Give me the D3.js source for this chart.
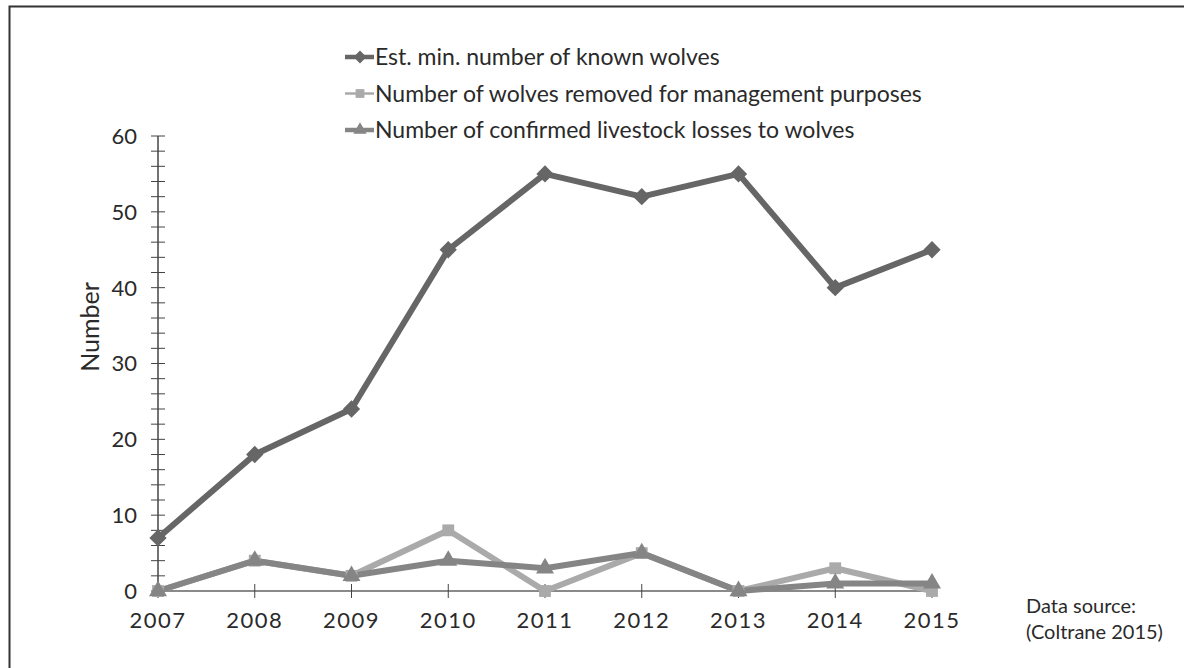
<!DOCTYPE html>
<html>
<head>
<meta charset="utf-8">
<script src="https://cdn.jsdelivr.net/npm/d3@7"></script>
<style>
  html, body { margin: 0; padding: 0; background: #fff; }
  svg { display: block; font-family: Lato, "Open Sans", sans-serif; }
</style>
</head>
<body>
<div id="chart"></div>
<script>
// data
const years = ["2007", "2008", "2009", "2010", "2011", "2012", "2013", "2014", "2015"];
const knownWolves = [7, 18, 24, 45, 55, 52, 55, 40, 45];
const wolvesRemoved = [0, 4, 2, 8, 0, 5, 0, 3, 0];
const livestockLosses = [0, 4, 2, 4, 3, 5, 0, 1, 1];
const yTicks = [0, 10, 20, 30, 40, 50, 60];

const seriesNames = [
  "Est. min. number of known wolves",
  "Number of wolves removed for management purposes",
  "Number of confirmed livestock losses to wolves"
];

const width = 1184;
const height = 668;
const margin = { top: 136, right: 252, bottom: 77, left: 158 };

const series = [
  { name: seriesNames[0], values: knownWolves, color: "#666666", symbol: d3.symbolDiamond2, size: 190 },
  { name: seriesNames[1], values: wolvesRemoved, color: "#aaaaaa", symbol: d3.symbolSquare, size: 140 },
  { name: seriesNames[2], values: livestockLosses, color: "#858585", symbol: d3.symbolTriangle, size: 140 }
];

const svg = d3.select("#chart")
  .append("svg")
  .attr("width", width)
  .attr("height", height);

// frame
svg.append("rect")
  .attr("x", 9.5)
  .attr("y", 6.5)
  .attr("width", 1200)
  .attr("height", 700)
  .attr("fill", "none")
  .attr("stroke", "#333")
  .attr("stroke-width", 2);

const x = d3.scalePoint()
  .domain(years)
  .range([margin.left, width - margin.right]);

const y = d3.scaleLinear()
  .domain([0, 60])
  .range([height - margin.bottom, margin.top]);

// y axis: major ticks every 10, minor every 2, both crossing the line
const yAxis = svg.append("g")
  .attr("transform", `translate(${margin.left},0)`);

yAxis.append("line")
  .attr("y1", y(0))
  .attr("y2", y(60))
  .attr("stroke", "#444")
  .attr("stroke-width", 1.5);

yAxis.selectAll("line.minor")
  .data(d3.range(0, 61, 2))
  .join("line")
  .attr("class", "minor")
  .attr("x1", -7)
  .attr("x2", 7)
  .attr("y1", (d) => y(d))
  .attr("y2", (d) => y(d))
  .attr("stroke", "#444")
  .attr("stroke-width", 1);

yAxis.selectAll("text")
  .data(yTicks)
  .join("text")
  .attr("x", -21)
  .attr("y", (d) => y(d))
  .attr("dy", "0.36em")
  .attr("text-anchor", "end")
  .attr("font-size", "22px")
  .attr("fill", "#2a2a2a")
  .text((d) => d);

// x axis
const xAxis = svg.append("g")
  .attr("transform", `translate(0,${y(0)})`);

xAxis.append("line")
  .attr("x1", x(years[0]))
  .attr("x2", x(years[years.length - 1]))
  .attr("stroke", "#8a8a8a")
  .attr("stroke-width", 2);

xAxis.selectAll("line.tick")
  .data(years)
  .join("line")
  .attr("class", "tick")
  .attr("x1", (d) => x(d))
  .attr("x2", (d) => x(d))
  .attr("y1", -7)
  .attr("y2", 7)
  .attr("stroke", "#444")
  .attr("stroke-width", 1);

xAxis.selectAll("text")
  .data(years)
  .join("text")
  .attr("x", (d) => x(d))
  .attr("y", 37)
  .attr("text-anchor", "middle")
  .attr("font-size", "22px")
  .attr("letter-spacing", "1.5px")
  .attr("fill", "#2a2a2a")
  .text((d) => d);

// axis title
svg.append("text")
  .attr("transform", "translate(99,327) rotate(-90)")
  .attr("text-anchor", "middle")
  .attr("font-size", "25px")
  .attr("fill", "#2a2a2a")
  .text("Number");

// lines and markers
const line = d3.line()
  .x((d, i) => x(years[i]))
  .y((d) => y(d));

series.forEach((s) => {
  svg.append("path")
    .datum(s.values)
    .attr("fill", "none")
    .attr("stroke", s.color)
    .attr("stroke-width", 6)
    .attr("stroke-linejoin", "round")
    .attr("d", line);
});

series.forEach((s) => {
  svg.append("g")
    .selectAll("path")
    .data(s.values)
    .join("path")
    .attr("transform", (d, i) => `translate(${x(years[i])},${y(d)})`)
    .attr("d", d3.symbol().type(s.symbol).size(s.size))
    .attr("fill", s.color);
});

// legend
const legend = svg.append("g")
  .selectAll("g")
  .data(series)
  .join("g")
  .attr("transform", (d, i) => `translate(345,${57 + i * 36.5})`);

legend.append("line")
  .attr("x1", 0)
  .attr("x2", 29)
  .attr("stroke", (d) => d.color)
  .attr("stroke-width", (d, i) => (i === 1 ? 2.5 : 4.5));

legend.append("path")
  .attr("transform", "translate(15,0)")
  .attr("d", (d) => d3.symbol().type(d.symbol).size(d.size * 0.55)())
  .attr("fill", (d) => d.color);

legend.append("text")
  .attr("x", 30)
  .attr("dy", "0.36em")
  .attr("font-size", "23px")
  .attr("fill", "#2a2a2a")
  .text((d) => d.name);

// source note
const note = svg.append("text")
  .attr("x", 1026)
  .attr("font-size", "20px")
  .attr("fill", "#2a2a2a");
note.append("tspan").attr("x", 1026).attr("y", 613).text("Data source:");
note.append("tspan").attr("x", 1026).attr("y", 639).text("(Coltrane 2015)");
</script>
</body>
</html>
